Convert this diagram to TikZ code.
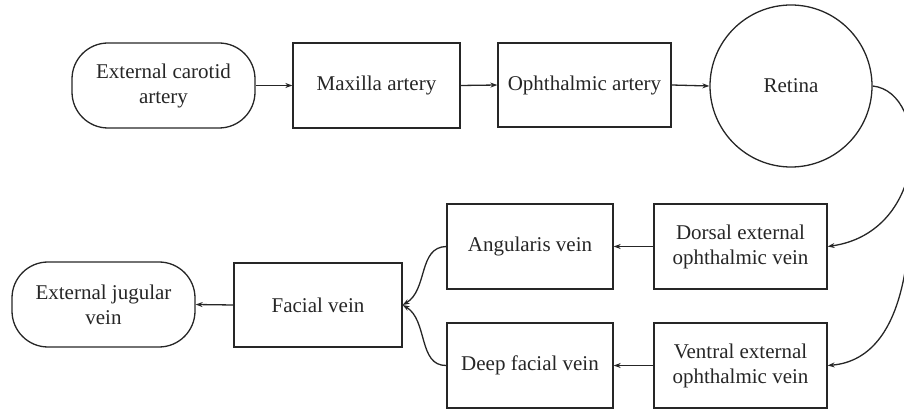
\documentclass[tikz,border=0pt]{standalone}
\usepackage{fontspec}
\setmainfont{Liberation Serif}
\usetikzlibrary{arrows.meta,shapes.geometric}
\begin{document}
\begin{tikzpicture}[x=1pt,y=-1pt,
  every node/.style={font=\fontsize{21}{25}\selectfont, text=black!85, align=center, inner sep=0pt},
  box/.style={draw=black!85, line width=1.3pt, rectangle},
  rbox/.style={draw=black!85, line width=1.3pt, rectangle, rounded corners=36pt},
  conn/.style={draw=black!85, line width=1.3pt, -{Stealth[length=7pt,width=5pt]}}
]
\useasboundingbox (0,0) rectangle (904,411);
\clip (0,0) rectangle (904,411);
\node[rbox, minimum width=183pt, minimum height=85pt] (ec) at (163.5,85.5) {External carotid\\artery};
\node[box, minimum width=167pt, minimum height=85pt] (mx) at (376.5,85.5) {Maxilla artery};
\node[box, minimum width=173pt, minimum height=84pt] (op) at (584.5,85) {Ophthalmic artery};
\node[draw=black!85, line width=1.3pt, circle, minimum size=162pt] (re) at (791,86) {Retina};
\node[box, minimum width=173pt, minimum height=85pt] (do) at (740.5,246.5) {Dorsal external\\ophthalmic vein};
\node[box, minimum width=173pt, minimum height=85pt] (ve) at (740.5,365.5) {Ventral external\\ophthalmic vein};
\node[box, minimum width=166pt, minimum height=85pt] (an) at (530,246.5) {Angularis vein};
\node[box, minimum width=166pt, minimum height=85pt] (de) at (530,365.5) {Deep facial vein};
\node[box, minimum width=168pt, minimum height=84pt] (fa) at (318,305) {Facial vein};
\node[rbox, minimum width=183pt, minimum height=85pt] (ej) at (103.5,304.5) {External jugular\\vein};
\coordinate (c2) at (907,258);

\draw[conn] (ec.east) -- (mx.west);
\draw[conn] (mx.east) -- (op.west);
\draw[conn] (op.east) -- (re.west);
\draw[conn] (re.east) .. controls (930,92) and (930,232) .. (do.east);
\draw[conn] (c2) .. controls (898,330) and (870,362) .. (ve.east);
\draw[conn] (do.west) -- (an.east);
\draw[conn] (ve.west) -- (de.east);
\draw[conn] (an.west) .. controls (418,247) and (428,290) .. (fa.east);
\draw[conn] (de.west) .. controls (418,366) and (428,320) .. (fa.east);
\draw[conn] (fa.west) -- (ej.east);
\end{tikzpicture}
\end{document}
